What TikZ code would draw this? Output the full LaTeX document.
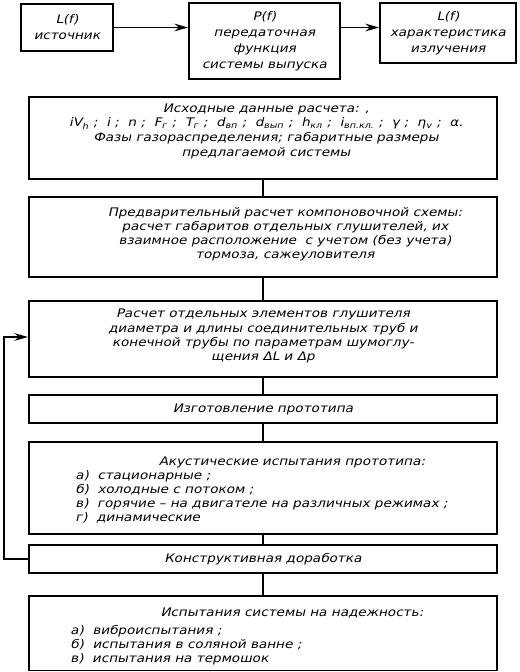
\documentclass[tikz,border=0pt]{standalone}
\usepackage{fontspec}
\usepackage{tikz}
\usetikzlibrary{arrows.meta, positioning, calc}
\newfontfamily\gost{DejaVu Sans}[FakeSlant=0.22,FakeStretch=1.15]
\newcommand{\gsize}{\fontsize{8.4}{10}\selectfont}
\newcommand{\sep}{\ ;\ \ }

\begin{document}
\begin{tikzpicture}[x=0.025cm, y=-0.025cm,
    blk/.style={draw, line width=1.3pt, inner sep=0pt, align=center, font=\gost\gsize},
    txt/.style={inner sep=0pt, align=center, font=\gost\gsize},
    link/.style={line width=1.3pt},
    arr/.style={line width=1.3pt, -{Stealth[length=3.4mm,width=1.9mm]}}]
    \useasboundingbox (0,0) rectangle (520,672);

    % top row
    \node[blk, minimum width=2.3cm, minimum height=1.175cm, font=\gost\fontsize{8.4}{11.4}\selectfont] (src) at (67,27.5) {L(f)\\источник};
    \node[blk, minimum width=3.775cm, minimum height=1.9cm, font=\gost\fontsize{8.4}{11.4}\selectfont] (tf) at (264.5,41) {P(f)\\передаточная\\функция\\системы выпуска};
    \node[blk, minimum width=3.4cm, minimum height=1.5cm, font=\gost\fontsize{8.4}{11.4}\selectfont] (rad) at (448,33) {L(f)\\характеристика\\излучения};
    \draw[arr] (src.east) -- (src.east -| tf.west);
    \draw[arr] (src.east -| tf.east) -- (src.east -| rad.west);

    % main column
    \node[blk, minimum width=11.7cm, minimum height=2.05cm] (inp) at (263,138) {};
    \node[txt, font=\gost\fontsize{8.4}{10.4}\selectfont] (inptxt) at (266,131) {Исходные данные расчета: ,\\
        iV\textsubscript{h}\sep i\sep n\sep F\textsubscript{г}\sep T\textsubscript{г}\sep d\textsubscript{вп}\sep d\textsubscript{вып}\sep h\textsubscript{кл}\sep i\textsubscript{вп.кл.}\sep γ\sep η\textsubscript{v}\sep α.\\
        Фазы газораспределения; габаритные размеры\\
        предлагаемой системы};

    \node[blk, minimum width=11.7cm, minimum height=2cm] (prel) at (263,237) {};
    \node[txt] (preltxt) at (285,234.5) {Предварительный расчет компоновочной схемы:\\
        расчет габаритов отдельных глушителей, их\\
        взаимное расположение \ с учетом (без учета)\\
        тормоза, сажеуловителя};

    \node[blk, minimum width=11.7cm, minimum height=1.9cm] (calc) at (263,339) {};
    \node[txt] (calctxt) at (263,336) {Расчет отдельных элементов глушителя\\
        диаметра и длины соединительных труб и\\
        конечной трубы по параметрам шумоглу-\\
        щения ΔL и Δp};

    \node[blk, minimum width=11.7cm, minimum height=0.7cm] (proto) at (263,409) {Изготовление прототипа};

    \node[blk, minimum width=11.7cm, minimum height=2.3cm] (acou) at (263,488) {};
    \node[txt] (acoutitle) at (292,462) {Акустические испытания прототипа:};
    \node[txt, anchor=west, align=left] (acoulist) at (75,497) {а)\ \ стационарные ;\\
        б)\ \ холодные с потоком ;\\
        в)\ \ горячие – на двигателе на различных режимах ;\\
        г)\ \ динамические};

    \node[blk, minimum width=11.7cm, minimum height=0.72cm] (fix) at (263,559) {Конструктивная доработка};

    \node[blk, minimum width=11.7cm, minimum height=1.87cm] (rel) at (263,633) {};
    \node[txt] (reltitle) at (292,613) {Испытания системы на надежность:};
    \node[txt, anchor=west, align=left] (rellist) at (70,645) {а)\ \ виброиспытания ;\\
        б)\ \ испытания в соляной ванне ;\\
        в)\ \ испытания на термошок};

    % connectors
    \draw[link] (inp.south) -- (prel.north);
    \draw[link] (prel.south) -- (calc.north);
    \draw[link] (calc.south) -- (proto.north);
    \draw[link] (proto.south) -- (acou.north);
    \draw[link] (acou.south) -- (fix.north);
    \draw[link] (fix.south) -- (rel.north);
    \draw[arr] (fix.west) -- ++(-24,0) |- ($(calc.west)+(0,-2)$);
\end{tikzpicture}
\end{document}
